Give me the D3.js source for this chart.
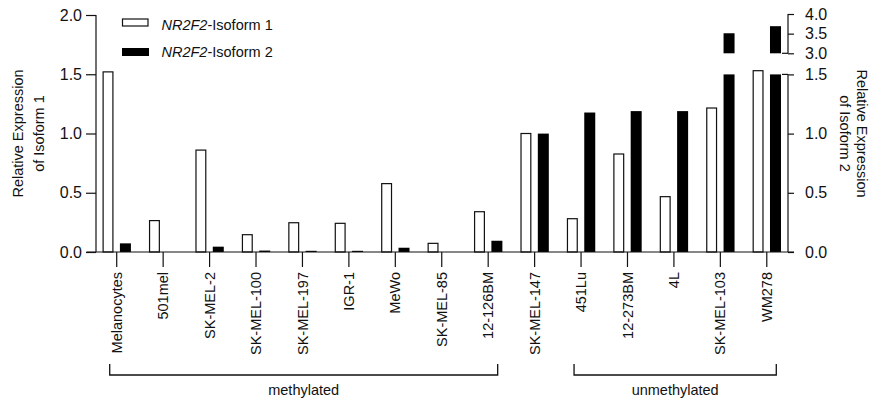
<!DOCTYPE html>
<html><head><meta charset="utf-8">
<script src="https://cdn.jsdelivr.net/npm/d3@7"></script>
<style>
body{margin:0;background:#fff;}
text{font-family:"Liberation Sans",Arial,sans-serif;fill:#111;}
</style></head>
<body><svg id="c" width="872" height="406"></svg>
<script>
const categories = ["Melanocytes","501mel","SK-MEL-2","SK-MEL-100","SK-MEL-197","IGR-1","MeWo","SK-MEL-85","12-126BM","SK-MEL-147","451Lu","12-273BM","4L","SK-MEL-103","WM278"];
const isoform1 = [1.52,0.265,0.86,0.146,0.247,0.242,0.577,0.073,0.34,1.0,0.281,0.827,0.467,1.215,1.53];
const isoform2 = [0.073,0,0.045,0.012,0.01,0.01,0.036,0,0.095,1.0,1.178,1.19,1.19,3.51,3.69];
const leftTicks = [0,0.5,1.0,1.5,2.0];
const rightTicksLow = [0,0.5,1.0,1.5];
const rightTicksHigh = [3.0,3.5,4.0];
const seriesNames = ["NR2F2","-Isoform 1","NR2F2","-Isoform 2"];
const groups = [{label:"methylated",from:"Melanocytes",to:"12-126BM"},{label:"unmethylated",from:"451Lu",to:"WM278"}];

const svg = d3.select("#c");
const stroke = "#111";
const x = d3.scaleBand().domain(categories).range([93.5,790]);
const inner = d3.scaleBand().domain(["a","b"]).range([-14.2,14.2]).paddingInner(0.368);
const yL = d3.scaleLinear().domain([0,2]).range([252,15]);
const yR = d3.scaleLinear().domain([0,1.5]).range([252,74.4]);
const yRU = d3.scaleLinear().domain([3,4]).range([53.3,14]);
const cx = c => x(c)+x.bandwidth()/2;

// bars isoform1 (white)
svg.append("g").selectAll("rect").data(categories).join("rect")
  .attr("x",(c)=>cx(c)+inner("a")+0.6)
  .attr("width",inner.bandwidth()-1.2)
  .attr("y",(c,i)=>yL(isoform1[i]))
  .attr("height",(c,i)=>yL(0)-yL(isoform1[i]))
  .attr("fill","#fff").attr("stroke",stroke).attr("stroke-width",1.2);
// bars isoform2 (black), broken axis
const g2 = svg.append("g");
categories.forEach((c,i)=>{
  const v = isoform2[i];
  if(v<=0) return;
  const low = Math.min(v,1.5);
  g2.append("rect").attr("x",cx(c)+inner("b")).attr("width",inner.bandwidth())
    .attr("y",yR(low)).attr("height",yR(0)-yR(low)).attr("fill","#000");
  if(v>3){
    g2.append("rect").attr("x",cx(c)+inner("b")).attr("width",inner.bandwidth())
      .attr("y",yRU(v)).attr("height",yRU(3)-yRU(v)).attr("fill","#000");
  }
});

// left axis
const axL = svg.append("g").attr("transform","translate(96,0)")
  .call(d3.axisLeft(yL).tickValues(leftTicks).tickFormat(d3.format(".1f")).tickSize(10).tickPadding(4));
// right axis low
const axR = svg.append("g").attr("transform","translate(788,0)")
  .call(d3.axisRight(yR).tickValues(rightTicksLow).tickFormat(d3.format(".1f")).tickSize(6).tickPadding(11));
const axRU = svg.append("g").attr("transform","translate(788,0)")
  .call(d3.axisRight(yRU).tickValues(rightTicksHigh).tickFormat(d3.format(".1f")).tickSize(6).tickPadding(11));
[axL,axR,axRU].forEach(a=>{
  a.select(".domain").remove();
  a.selectAll("line").attr("stroke",stroke).attr("stroke-width",1.2);
  a.selectAll("text").attr("font-size",16).attr("fill","#111").style("font-family","Liberation Sans, Arial, sans-serif");
});
axL.append("line").attr("x1",0).attr("x2",0).attr("y1",yL(0)).attr("y2",yL(2)).attr("stroke",stroke).attr("stroke-width",1.2);
axR.append("line").attr("x1",0).attr("x2",0).attr("y1",yR(0)).attr("y2",yR(1.5)).attr("stroke",stroke).attr("stroke-width",1.2);
axRU.append("line").attr("x1",0).attr("x2",0).attr("y1",yRU(3)).attr("y2",yRU(4)).attr("stroke",stroke).attr("stroke-width",1.2);
// segment end caps extending left
axR.append("line").attr("x1",-6).attr("x2",0).attr("y1",yR(1.5)).attr("y2",yR(1.5)).attr("stroke",stroke).attr("stroke-width",1.2);
axRU.append("line").attr("x1",-6).attr("x2",0).attr("y1",yRU(3)).attr("y2",yRU(3)).attr("stroke",stroke).attr("stroke-width",1.2);

// x axis
const axX = svg.append("g").attr("transform","translate(0,252)")
  .call(d3.axisBottom(x).tickSize(15).tickPadding(6));
axX.select(".domain").remove();
axX.append("line").attr("x1",86.5).attr("x2",794).attr("y1",0).attr("y2",0).attr("stroke",stroke).attr("stroke-width",1.2);
axX.selectAll(".tick line").attr("stroke",stroke).attr("stroke-width",1.2);
axX.selectAll(".tick text").attr("font-size",14.5).attr("fill","#111")
  .style("font-family","Liberation Sans, Arial, sans-serif")
  .attr("text-anchor","end").attr("transform","rotate(-90)")
  .attr("x",-20).attr("y",0).attr("dy","0.35em");

// group brackets
groups.forEach(gp=>{
  const x1 = cx(gp.from)-7, x2 = cx(gp.to)+9.5;
  svg.append("path").attr("d",`M${x1},364 V375 H${x2} V364`).attr("fill","none").attr("stroke",stroke).attr("stroke-width",1.3);
  svg.append("text").attr("x",(x1+x2)/2).attr("y",395).attr("text-anchor","middle").attr("font-size",14.5).text(gp.label);
});

// axis titles
const lt = svg.append("text").attr("transform","translate(0,133.5) rotate(-90)").attr("text-anchor","middle").attr("font-size",14.5);
lt.append("tspan").attr("x",0).attr("y",23).text("Relative Expression");
lt.append("tspan").attr("x",0).attr("y",43.5).text("of Isoform 1");
const rt = svg.append("text").attr("transform","translate(872,133.5) rotate(90)").attr("text-anchor","middle").attr("font-size",14.5);
rt.append("tspan").attr("x",0).attr("y",15.5).text("Relative Expression");
rt.append("tspan").attr("x",0).attr("y",32).text("of Isoform 2");

// legend
const leg = svg.append("g");
leg.append("rect").attr("x",122.5).attr("y",19).attr("width",25.5).attr("height",7).attr("fill","#fff").attr("stroke",stroke).attr("stroke-width",1.2);
leg.append("rect").attr("x",122).attr("y",48).attr("width",27).attr("height",8).attr("fill","#000");
[[30,0],[57,2]].forEach(([yy,k])=>{
  const t = leg.append("text").attr("x",161.5).attr("y",yy).attr("font-size",14.5);
  t.append("tspan").attr("font-style","italic").text(seriesNames[k]);
  t.append("tspan").text(seriesNames[k+1]);
});
</script></body></html>
